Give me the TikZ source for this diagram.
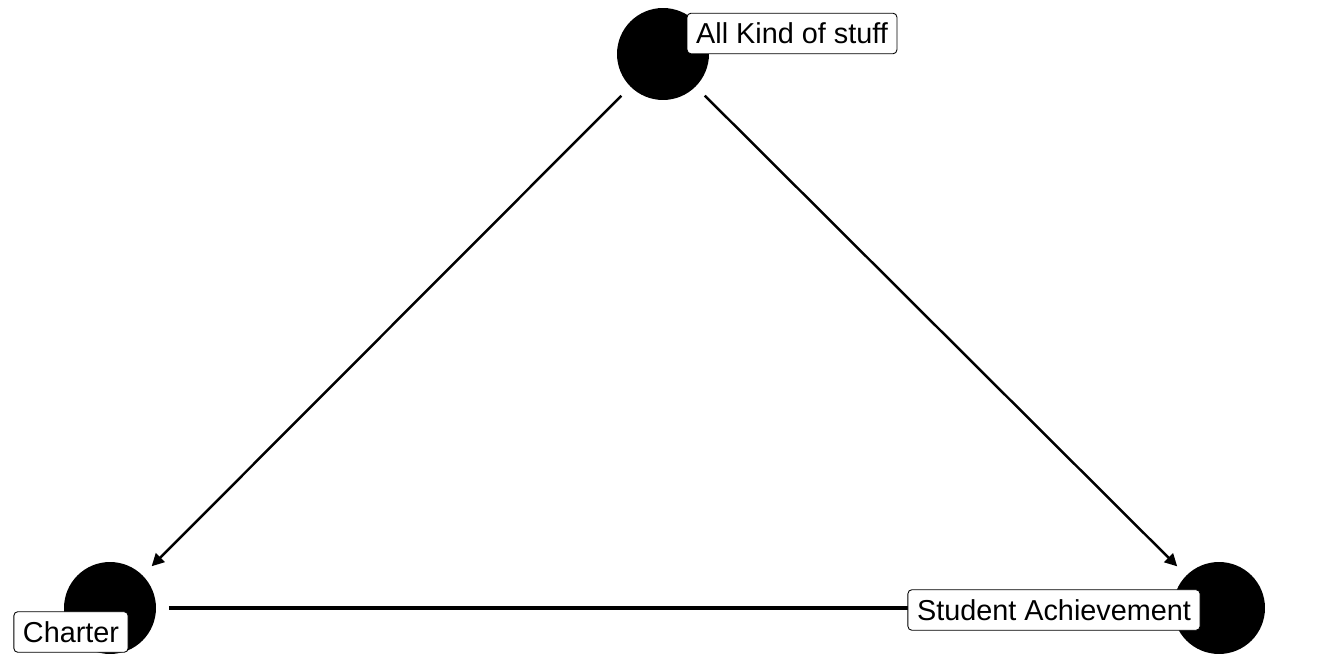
\documentclass[tikz,border=0pt]{standalone}
\usepackage{fontspec}
\setmainfont{Liberation Sans}
\usetikzlibrary{arrows.meta}

\begin{document}
\begin{tikzpicture}[x=0.02cm,y=-0.02cm,
        dot/.style={circle, fill=black, minimum size=1.84cm, inner sep=0pt, outer sep=0.26cm},
        edge/.style={line width=1.4pt, -{Triangle[length=7pt,width=7pt]}},
        link/.style={line width=1.8pt},
        lbl/.style={draw, line width=0.5pt, fill=white, rounded corners=2.3pt, font=\fontsize{16.4}{18}\selectfont,
        text height=13.6pt, text depth=1.9pt, inner xsep=5.2pt, inner ysep=3.8pt}]
        \useasboundingbox (0,0) rectangle (1330,665);
        \node[dot] (stuff) at (663,54) {};
        \node[dot] (charter) at (110,608) {};
        \node[dot] (achieve) at (1219,608) {};
        \draw[edge] (stuff) -- (charter);
        \draw[edge] (stuff) -- (achieve);
        \draw[link] (charter) -- (achieve);
        \node[lbl] (stuff-lbl) at (792,33.5) {All Kind of stuff};
        \node[lbl] (charter-lbl) at (71,632) {Charter};
        \node[lbl] (achieve-lbl) at (1054,610) {Student Achievement};
    \end{tikzpicture}
\end{document}
